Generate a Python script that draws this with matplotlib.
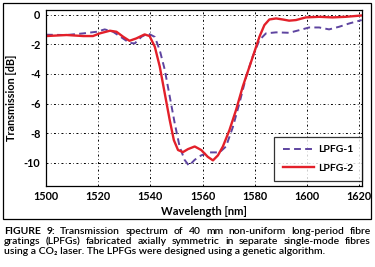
import matplotlib
matplotlib.use("Agg")
from matplotlib import pyplot as plt
from matplotlib.patches import Rectangle
import numpy as np

# LPFG-1 (dashed)
wl1 = [1500, 1507.9, 1514.3, 1519.4, 1522.5, 1525.7, 1528.9, 1532, 1534, 1536.6,
       1539.1, 1541.7, 1543.6, 1545.5, 1547.4, 1549.3, 1551.2, 1553.1, 1554.8, 1557,
       1559.5, 1562.7, 1566.5, 1569, 1571.6, 1574.1, 1576.7, 1579.2, 1581.8, 1584.3,
       1588.2, 1593.2, 1597.1, 1600.9, 1604.7, 1608.5, 1612.4, 1616.2, 1621]
t1 = [-1.35, -1.37, -1.26, -1.15, -0.99, -1.15, -1.53, -1.9, -1.94, -1.49,
      -1.26, -1.5, -2.4, -3.7, -5.5, -7.3, -8.9, -9.8, -10.2, -9.8,
      -9.5, -9.3, -9.3, -8.9, -7.6, -6.0, -4.2, -2.84, -1.71, -1.26,
      -1.19, -1.22, -1.04, -0.86, -0.86, -0.99, -0.81, -0.59, -0.36]

# LPFG-2 (solid)
wl2 = [1500, 1507.9, 1514.3, 1518, 1520.6, 1524.5, 1527, 1529.6, 1532, 1534.6,
       1537.8, 1539.7, 1541.7, 1543.6, 1545.5, 1547.4, 1549, 1550.6, 1552.5, 1554.4,
       1557, 1559.5, 1562, 1564, 1565.9, 1567.8, 1570.3, 1572.9, 1575.4, 1578,
       1579.9, 1581.8, 1583.7, 1585.6, 1588.2, 1590.7, 1593.2, 1595.8, 1599.6, 1604.7,
       1609.8, 1614.9, 1621]
t2 = [-1.44, -1.37, -1.44, -1.44, -1.26, -1.08, -1.15, -1.49, -1.76, -1.6,
      -1.33, -1.44, -2.16, -3.5, -5.3, -7.1, -8.47, -9.14, -9.28, -9.08,
      -8.9, -9.14, -9.6, -9.84, -9.5, -8.9, -7.8, -6.4, -4.86, -3.5,
      -2.5, -1.49, -0.7, -0.32, -0.25, -0.32, -0.4, -0.36, -0.18, -0.14,
      -0.18, -0.14, -0.05]

xticks = [1500, 1520, 1540, 1560, 1580, 1600, 1620]
yticks = [0, -2, -4, -6, -8, -10]

caption = ["FIGURE 9: Transmission spectrum of 40 mm non-uniform long-period fibre",
           "gratings (LPFGs) fabricated axially symmetric in separate single-mode fibres",
           "using a CO\u2082 laser. The LPFGs were designed using a genetic algorithm."]

plt.rcParams['font.family'] = ['Lato', 'DejaVu Sans']

W, H = 375, 267
fig = plt.figure(figsize=(W/100., H/100.), dpi=100)
ax = fig.add_axes([46./W, 1-185.7/H, (361.7-46)/W, (185.7-10)/H])

ax.plot(wl1, t1, color='#5e44a0', lw=1.4, dashes=(3.5, 2.2), label='LPFG-1')
ax.plot(wl2, t2, color='#e3202a', lw=1.7, label='LPFG-2')

ax.set_xlim(1500, 1621)
ax.set_ylim(-11.55, 0.32)
ax.set_xticks(xticks)
ax.set_yticks(yticks)
ax.set_yticklabels([str(v) for v in yticks])
ax.tick_params(length=0, labelsize=7.8, pad=4)
for lab in ax.get_xticklabels() + ax.get_yticklabels():
    lab.set_fontweight('bold')
ax.grid(True, color='black', lw=0.7, linestyle=(0, (2, 2.5, 0.7, 2.5)))
for s in ax.spines.values():
    s.set_linewidth(0.9)

ax.set_xlabel('Wavelength [nm]', fontsize=8, fontweight='bold', labelpad=3)
ax.set_ylabel('Transmission [dB]', fontsize=7.8, fontweight='bold', labelpad=5)

leg = ax.legend(loc='lower right', bbox_to_anchor=(1.0, 0.025), fontsize=7.5,
                frameon=True, fancybox=False, handlelength=3.0, handletextpad=0.4,
                borderpad=0.8, labelspacing=0.9, borderaxespad=0.)
leg.get_frame().set_edgecolor('black')
leg.get_frame().set_linewidth(0.9)
for t in leg.get_texts():
    t.set_fontweight('bold')

# frame round plot and axis label
fig.patches.append(Rectangle((3./W, 1-219./H), 368./W, 216./H, transform=fig.transFigure,
                             fill=False, ec='black', lw=0.9))

# justified caption; size chosen so the last line ends where it does in the figure
renderer = fig.canvas.get_renderer()
probe = fig.text(0, 0, caption[-1], fontsize=10, fontweight='semibold')
fs = 10 * (327. - 4.) / probe.get_window_extent(renderer).width
probe.remove()

x0, x1 = 4./W, 371./W
ys = [232, 242, 252]
for i, line in enumerate(caption):
    y = 1 - ys[i]/float(H)
    if i == len(caption) - 1:
        fig.text(x0, y, line, fontsize=fs, fontweight='semibold', va='center')
        continue
    words = line.split(' ')
    texts = []
    for j, w in enumerate(words):
        bold = 'bold' if (i == 0 and j < 2) else 'semibold'
        texts.append(fig.text(0, y, w, fontsize=fs, fontweight=bold, va='center'))
    widths = [t.get_window_extent(renderer).width / W for t in texts]
    gap = (x1 - x0 - sum(widths)) / (len(words) - 1)
    x = x0
    for t, wd in zip(texts, widths):
        t.set_x(x)
        x += wd + gap

fig.savefig('out.png', dpi=100)
